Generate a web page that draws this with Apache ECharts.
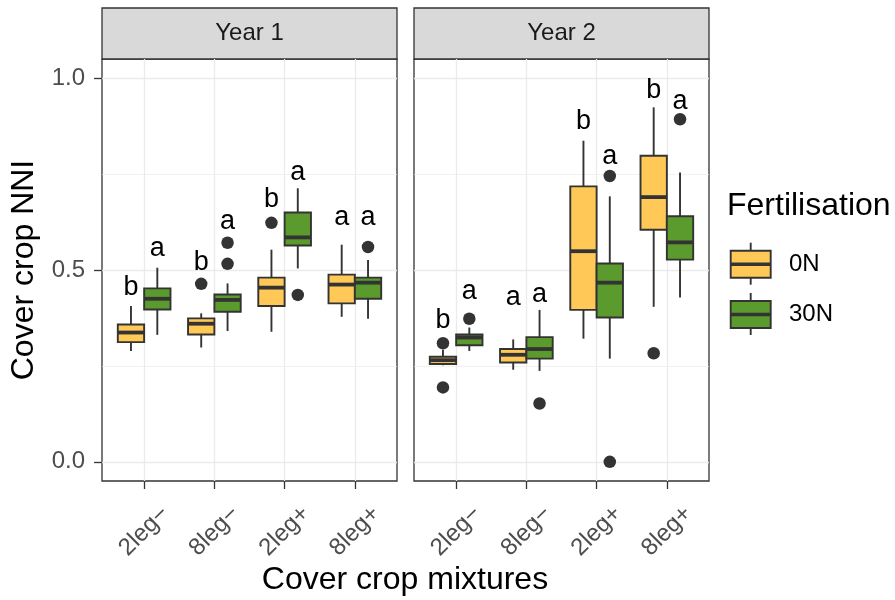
<!DOCTYPE html>
<html>
<head>
<meta charset="utf-8">
<script src="https://cdn.jsdelivr.net/npm/echarts@6/dist/echarts.min.js"></script>
<style>
html,body{margin:0;padding:0;background:#fff;}
#chart{width:895px;height:600px;}
</style>
</head>
<body>
<div id="chart"></div>
<script>
// ---- data ----
const categories = ['2leg\u2212', '8leg\u2212', '2leg+', '8leg+'];
const panels = ['Year 1', 'Year 2'];
const groups = ['0N', '30N'];
const yTicks = [0, 0.5, 1.0];
const yMinorTicks = [0.25, 0.75];

// [lower whisker, Q1, median, Q3, upper whisker] per category
const year1_0N  = [[0.289, 0.312, 0.337, 0.358, 0.406], [0.298, 0.332, 0.360, 0.374, 0.387], [0.339, 0.406, 0.454, 0.480, 0.553], [0.378, 0.413, 0.462, 0.488, 0.566]];
const year1_30N = [[0.331, 0.397, 0.425, 0.452, 0.506], [0.341, 0.391, 0.422, 0.436, 0.465], [0.504, 0.564, 0.585, 0.650, 0.713], [0.373, 0.425, 0.467, 0.480, 0.526]];
const year2_0N  = [[0.252, 0.255, 0.265, 0.274, 0.292], [0.240, 0.259, 0.279, 0.294, 0.319], [0.321, 0.396, 0.549, 0.718, 0.837], [0.404, 0.605, 0.690, 0.798, 0.924]];
const year2_30N = [[0.289, 0.304, 0.324, 0.332, 0.350], [0.237, 0.269, 0.294, 0.325, 0.396], [0.269, 0.376, 0.467, 0.517, 0.692], [0.428, 0.527, 0.572, 0.640, 0.754]];

// outliers per category
const year1_0N_out  = [[], [0.464], [0.623], []];
const year1_30N_out = [[], [0.516, 0.571], [0.435], [0.560]];
const year2_0N_out  = [[0.309, 0.194], [], [], [0.283]];
const year2_30N_out = [[0.373], [0.152], [0.745, 0.0], [0.893]];

// significance letters and their heights (NNI units)
const year1_0N_letters  = ['b', 'b', 'b', 'a'];
const year1_30N_letters = ['a', 'a', 'a', 'a'];
const year2_0N_letters  = ['b', 'a', 'b', 'b'];
const year2_30N_letters = ['a', 'a', 'a', 'a'];
const year1_0N_letterY  = [0.455, 0.519, 0.683, 0.636];
const year1_30N_letterY = [0.556, 0.627, 0.753, 0.636];
const year2_0N_letterY  = [0.367, 0.429, 0.886, 0.969];
const year2_30N_letterY = [0.445, 0.436, 0.796, 0.938];

// ---- styling ----
const colors = {'0N': '#FFC857', '30N': '#5B9A2C'};
const dark = '#333333';
const dodge = 0.1875;
const boxW = 0.375;
const gridTop = 59, gridH = 422, gridW = 295;
const gridLefts = [102, 414];
const font = 'Liberation Sans, Arial, sans-serif';

const panelData = [
  {stats: [year1_0N, year1_30N], out: [year1_0N_out, year1_30N_out], letters: [year1_0N_letters, year1_30N_letters], letterY: [year1_0N_letterY, year1_30N_letterY]},
  {stats: [year2_0N, year2_30N], out: [year2_0N_out, year2_30N_out], letters: [year2_0N_letters, year2_30N_letters], letterY: [year2_0N_letterY, year2_30N_letterY]}
];

const chart = echarts.init(document.getElementById('chart'), null, {renderer: 'canvas'});

const grids = gridLefts.map(l => ({left: l, top: gridTop, width: gridW, height: gridH, show: true, borderColor: dark, borderWidth: 1.3, backgroundColor: '#fff', containLabel: false}));

const xAxes = panels.map((p, i) => ({
  type: 'value', gridIndex: i, min: 0.4, max: 4.6, position: 'bottom',
  axisLine: {show: false, onZero: false},
  axisTick: {show: true, length: 8, lineStyle: {color: dark, width: 1.3}, customValues: [1, 2, 3, 4]},
  axisLabel: {show: true, customValues: [1, 2, 3, 4], formatter: v => categories[Math.round(v) - 1],
    rotate: 45, align: 'center', verticalAlign: 'middle', margin: 50,
    fontFamily: font, fontSize: 24, color: '#4d4d4d'},
  splitLine: {show: true, lineStyle: {color: '#ebebeb', width: 1.3}}
}));

const yAxes = [];
panels.forEach((p, i) => {
  yAxes.push({
    type: 'value', gridIndex: i, min: -0.05, max: 1.05, position: 'left',
    axisLine: {show: false, onZero: false},
    axisTick: {show: i === 0, length: 8, lineStyle: {color: dark, width: 1.3}, customValues: yTicks},
    axisLabel: {show: i === 0, customValues: yTicks, formatter: v => v.toFixed(1), margin: 17,
      fontFamily: font, fontSize: 24, color: '#4d4d4d'},
    splitLine: {show: true, lineStyle: {color: '#ebebeb', width: 1.3}},
    name: i === 0 ? 'Cover crop NNI' : '', nameLocation: 'middle', nameGap: 62,
    nameTextStyle: {fontFamily: font, fontSize: 32, color: '#000'}
  });
  yAxes.push({
    type: 'value', gridIndex: i, min: -0.05, max: 1.05, position: 'left',
    axisLine: {show: false, onZero: false},
    axisTick: {show: false, customValues: yMinorTicks},
    axisLabel: {show: false, customValues: yMinorTicks},
    splitLine: {show: true, lineStyle: {color: '#ebebeb', width: 0.7}}
  });
});

const series = [];
panelData.forEach((pd, pi) => {
  groups.forEach((g, gi) => {
    const off = gi === 0 ? -dodge : dodge;
    const stats = pd.stats[gi];
    const letters = pd.letters[gi];
    const data = stats.map((s, ci) => [ci + 1 + off, s[0], s[1], s[2], s[3], s[4], pd.letterY[gi][ci]]);
    series.push({
      type: 'custom', name: g, xAxisIndex: pi, yAxisIndex: pi * 2,
      itemStyle: {color: colors[g]},
      encode: {x: 0, y: [1, 2, 3, 4, 5, 6]},
      data: data, z: 3,
      renderItem: function (params, api) {
        const x = api.value(0);
        const pLo = api.coord([x, api.value(1)]);
        const pQ1 = api.coord([x, api.value(2)]);
        const pMed = api.coord([x, api.value(3)]);
        const pQ3 = api.coord([x, api.value(4)]);
        const pHi = api.coord([x, api.value(5)]);
        const pL = api.coord([x, api.value(6)]);
        const hw = api.size([boxW, 0])[0] / 2;
        const cx = pMed[0];
        return {
          type: 'group',
          children: [
            {type: 'line', shape: {x1: cx, y1: pHi[1], x2: cx, y2: pQ3[1]}, style: {stroke: dark, lineWidth: 1.9}},
            {type: 'line', shape: {x1: cx, y1: pQ1[1], x2: cx, y2: pLo[1]}, style: {stroke: dark, lineWidth: 1.9}},
            {type: 'rect', shape: {x: cx - hw, y: pQ3[1], width: 2 * hw, height: pQ1[1] - pQ3[1]}, style: {fill: colors[g], stroke: dark, lineWidth: 1.9}},
            {type: 'line', shape: {x1: cx - hw, y1: pMed[1], x2: cx + hw, y2: pMed[1]}, style: {stroke: dark, lineWidth: 3.8}},
            {type: 'text', x: cx, y: pL[1], style: {text: letters[params.dataIndex], fill: '#000', fontSize: 27, fontFamily: font, align: 'center', verticalAlign: 'middle'}}
          ]
        };
      }
    });
    const outPts = [];
    pd.out[gi].forEach((arr, ci) => arr.forEach(v => outPts.push([ci + 1 + off, v])));
    series.push({
      type: 'scatter', name: g + ' outliers', xAxisIndex: pi, yAxisIndex: pi * 2,
      data: outPts, symbol: 'circle', symbolSize: 12.5, z: 4,
      itemStyle: {color: dark, opacity: 1}, silent: true
    });
  });
});

const graphic = [];
panels.forEach((p, i) => {
  graphic.push({type: 'rect', shape: {x: gridLefts[i], y: 8, width: gridW, height: gridTop - 8}, style: {fill: '#d9d9d9', stroke: dark, lineWidth: 1.3}});
  graphic.push({type: 'text', x: gridLefts[i] + gridW / 2, y: 8 + (gridTop - 8) / 2, style: {text: p, fill: '#1a1a1a', fontSize: 24, fontFamily: font, align: 'center', verticalAlign: 'middle'}});
});
graphic.push({type: 'text', x: 405, y: 580, style: {text: 'Cover crop mixtures', fill: '#000', fontSize: 32, fontFamily: font, align: 'center', verticalAlign: 'middle'}});
// legend
graphic.push({type: 'text', x: 727, y: 206, style: {text: 'Fertilisation', fill: '#000', fontSize: 32, fontFamily: font, align: 'left', verticalAlign: 'middle'}});
const keyTops = [242.7, 293];
groups.forEach((g, i) => {
  const t = keyTops[i];
  const cx = 750.7;
  graphic.push({type: 'line', shape: {x1: cx, y1: t, x2: cx, y2: t + 42}, style: {stroke: dark, lineWidth: 1.9}});
  graphic.push({type: 'rect', shape: {x: 730.7, y: t + 8, width: 40, height: 27}, style: {fill: colors[g], stroke: dark, lineWidth: 1.9}});
  graphic.push({type: 'line', shape: {x1: 730.7, y1: t + 21.5, x2: 770.7, y2: t + 21.5}, style: {stroke: dark, lineWidth: 3.4}});
  graphic.push({type: 'text', x: 789, y: t + 21.5, style: {text: g, fill: '#000', fontSize: 24, fontFamily: font, align: 'left', verticalAlign: 'middle'}});
});

chart.setOption({
  animation: false,
  backgroundColor: '#fff',
  grid: grids,
  xAxis: xAxes,
  yAxis: yAxes,
  series: series,
  graphic: graphic
});
</script>
</body>
</html>
